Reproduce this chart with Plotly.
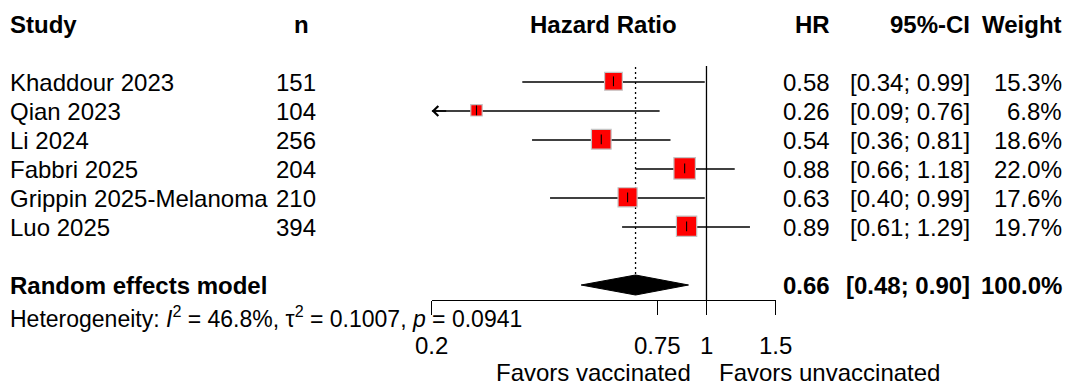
import numpy as np
import plotly.graph_objects as go

# ---------------- data ----------------
studies = ["Khaddour 2023", "Qian 2023", "Li 2024", "Fabbri 2025",
           "Grippin 2025-Melanoma", "Luo 2025"]
n_pat = [151, 104, 256, 204, 210, 394]
hr = [0.58, 0.26, 0.54, 0.88, 0.63, 0.89]
ci_low = [0.34, 0.09, 0.36, 0.66, 0.40, 0.61]
ci_high = [0.99, 0.76, 0.81, 1.18, 0.99, 1.29]
weight = [15.3, 6.8, 18.6, 22.0, 17.6, 19.7]

summary_label = "Random effects model"
summary_hr = 0.66
summary_low = 0.48
summary_high = 0.90
summary_weight = 100.0

het_i2 = 46.8
het_tau2 = 0.1007
het_p = 0.0941

tick_vals = [0.2, 0.75, 1, 1.5]
tick_text = ["0.2", "0.75", "1", "1.5"]
x_min, x_max = 0.2, 1.5
ref_value = 1
label_left = "Favors vaccinated"
label_right = "Favors unvaccinated"

# ---------------- layout constants (pixels) ----------------
W, H = 1069, 385
FONT = "Liberation Sans, Arial, Helvetica, sans-serif"
FS = 24
FS_HET = 23
ROW0, ROW_STEP = 82, 29
row_y = [ROW0 + ROW_STEP * i for i in range(len(studies))]
y_head = 24
y_sum = 285
y_het = 317
y_axis = 300
y_ticklab = 345
y_favors = 372
y_top = 66
dia_half = 10

X_STUDY = 8
X_N = 318
X_N_HEAD = 301
X_HR = 832
X_CI = 972
X_W = 1064
PLOT_L, PLOT_R = 431.7, 775.7

fig = go.Figure()

# CI lines
cx, cy = [], []
for lo, hi, y in zip(ci_low, ci_high, row_y):
    cx += [max(lo, x_min), min(hi, x_max), None]
    cy += [y, y, None]
fig.add_trace(go.Scatter(x=cx, y=cy, mode="lines",
                         line=dict(color="black", width=1.3), hoverinfo="skip"))

# reference line at 1
fig.add_trace(go.Scatter(x=[ref_value, ref_value], y=[y_top, y_axis], mode="lines",
                         line=dict(color="black", width=1.3), hoverinfo="skip"))
# dotted line at summary estimate
fig.add_trace(go.Scatter(x=[summary_hr, summary_hr], y=[y_top + 1, y_sum - dia_half],
                         mode="lines",
                         line=dict(color="black", width=1.3, dash="2px,3px"),
                         hoverinfo="skip"))

# squares (side proportional to sqrt(weight))
sizes = [4.84 * np.sqrt(w) - 1.2 for w in weight]
fig.add_trace(go.Scatter(x=hr, y=[y - 0.7 for y in row_y], mode="markers",
                         marker=dict(symbol="square", size=sizes, color="#FF0000",
                                     opacity=1,
                                     line=dict(color="#C4C4C4", width=1.2)),
                         hoverinfo="skip"))
# point tick
fig.add_trace(go.Scatter(x=hr, y=[y - 0.7 for y in row_y], mode="markers",
                         marker=dict(symbol="line-ns", size=7, opacity=1,
                                     line=dict(color="black", width=1.1)),
                         hoverinfo="skip"))

# diamond
fig.add_trace(go.Scatter(
    x=[summary_low, summary_hr, summary_high, summary_hr, summary_low],
    y=[y_sum, y_sum - dia_half, y_sum, y_sum + dia_half, y_sum],
    mode="lines", fill="toself", fillcolor="black",
    line=dict(color="black", width=1), hoverinfo="skip"))

ann = []


def txt(x, y, s, anchor="left", bold=False, xref="paper", size=FS):
    ann.append(dict(x=x / W if xref == "paper" else x, y=y, xref=xref, yref="y",
                    text=f"<b>{s}</b>" if bold else s, showarrow=False,
                    xanchor=anchor, yanchor="middle",
                    font=dict(family=FONT, size=size, color="black")))


# header
txt(X_STUDY, y_head, "Study", "left", True)
txt(X_N_HEAD, y_head, "n", "center", True)
ann.append(dict(x=0.5, y=y_head, xref="x domain", yref="y", text="<b>Hazard Ratio</b>",
                showarrow=False, xanchor="center", yanchor="middle",
                font=dict(family=FONT, size=FS, color="black")))
txt(X_HR, y_head, "HR", "right", True)
txt(X_CI, y_head, "95%-CI", "right", True)
txt(X_W, y_head, "Weight", "right", True)

# study rows
for s, nn, h, lo, hi, w, y in zip(studies, n_pat, hr, ci_low, ci_high, weight, row_y):
    txt(X_STUDY, y, s, "left")
    txt(X_N, y, str(nn), "right")
    txt(X_HR, y, f"{h:.2f}", "right")
    txt(X_CI, y, f"[{lo:.2f}; {hi:.2f}]", "right")
    txt(X_W, y, f"{w:.1f}%", "right")
    if lo < x_min:
        ann.append(dict(x=np.log10(x_min), y=y, xref="x", yref="y", text="",
                        showarrow=True, ax=16, ay=0, arrowhead=4, arrowsize=1.5,
                        arrowwidth=1.3, arrowcolor="black"))

# summary row
txt(X_STUDY, y_sum, summary_label, "left", True)
txt(X_HR, y_sum, f"{summary_hr:.2f}", "right", True)
txt(X_CI, y_sum, f"[{summary_low:.2f}; {summary_high:.2f}]", "right", True)
txt(X_W, y_sum, f"{summary_weight:.1f}%", "right", True)

# heterogeneity
txt(X_STUDY, y_het,
    f"Heterogeneity: <i>I</i><sup>2</sup> = {het_i2:.1f}%, "
    f"τ<sup>2</sup> = {het_tau2:.4f}, <i>p</i> = {het_p:.4f}", "left", size=FS_HET)

# tick labels
for v, t in zip(tick_vals, tick_text):
    ann.append(dict(x=np.log10(v), y=y_ticklab, xref="x", yref="y", text=t,
                    showarrow=False, xanchor="center", yanchor="middle",
                    font=dict(family=FONT, size=FS, color="black")))

# favors labels
ann.append(dict(x=np.log10(ref_value), y=y_favors, xref="x", yref="y", text=label_left,
                showarrow=False, xanchor="right", yanchor="middle", xshift=-13,
                font=dict(family=FONT, size=FS, color="black")))
ann.append(dict(x=np.log10(ref_value), y=y_favors, xref="x", yref="y", text=label_right,
                showarrow=False, xanchor="left", yanchor="middle", xshift=11,
                font=dict(family=FONT, size=FS, color="black")))

fig.update_layout(
    width=W, height=H, margin=dict(l=0, r=0, t=0, b=0),
    paper_bgcolor="white", plot_bgcolor="white", showlegend=False,
    annotations=ann,
    xaxis=dict(type="log", range=[np.log10(x_min), np.log10(x_max)],
               domain=[PLOT_L / W, PLOT_R / W], anchor="free",
               position=1 - y_axis / H,
               showline=True, linecolor="black", linewidth=1.3,
               ticks="outside", ticklen=14, tickwidth=1.3, tickcolor="black",
               tickvals=tick_vals, showticklabels=False,
               showgrid=False, zeroline=False, fixedrange=True),
    yaxis=dict(range=[H, 0], domain=[0, 1], visible=False, showgrid=False,
               zeroline=False, fixedrange=True),
)

fig.write_html("out.html", config={"displayModeBar": False})
